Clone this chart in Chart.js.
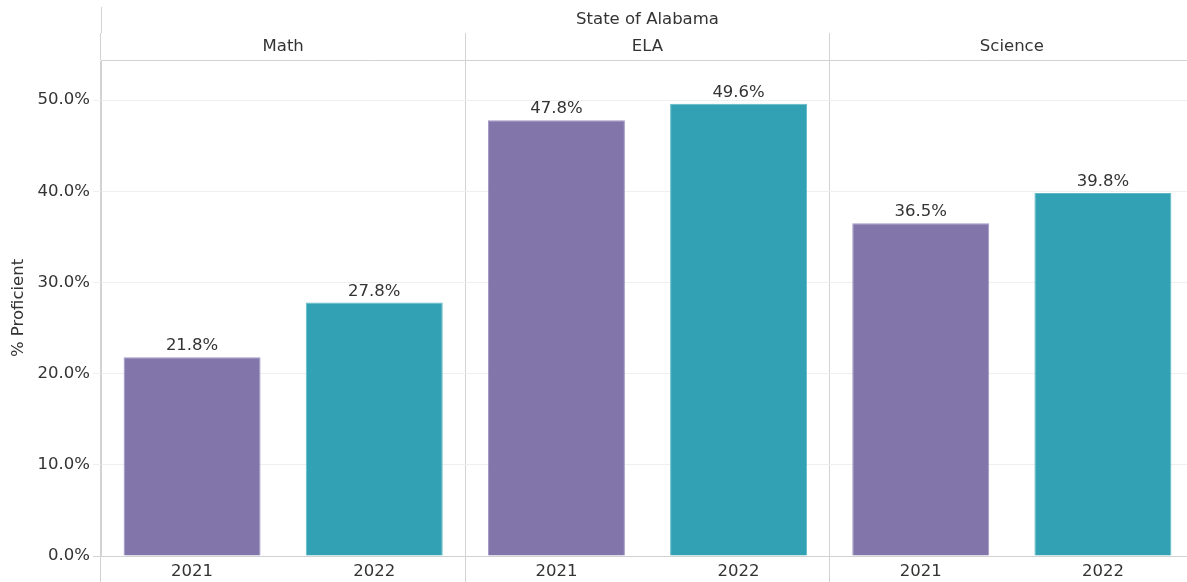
<!DOCTYPE html>
<html>
<head>
<meta charset="utf-8">
<script src="https://cdn.jsdelivr.net/npm/chart.js@4/dist/chart.umd.min.js"></script>
<style>
  html, body { margin: 0; padding: 0; background: #ffffff; overflow: hidden; }
  #wrap { width: 1194px; height: 582px; }
</style>
</head>
<body>
<div id="wrap"><canvas id="chart" width="1194" height="582"></canvas></div>
<script>
// Proficiency rates by subject, State of Alabama
const groupTitle = 'State of Alabama';
const subjects = ['Math', 'ELA', 'Science'];
const years = ['2021', '2022'];
const pct2021 = [21.8, 47.8, 36.5];
const pct2022 = [27.8, 49.6, 39.8];
const yearColors = ['#8175aa', '#32a1b4'];
const yearBorders = ['#a097c4', '#62bac7'];

const FONT = { family: 'DejaVu Sans', size: 16.5 };
const TEXT = '#333333';
const LINE = '#d2d2d2';

// one bar per (subject, year)
const labels = [];
const values = [];
const fills = [];
const borders = [];
subjects.forEach((s, i) => {
  [pct2021[i], pct2022[i]].forEach((v, j) => {
    labels.push(years[j]);
    values.push(v);
    fills.push(yearColors[j]);
    borders.push(yearBorders[j]);
  });
});

const valueLabels = {
  id: 'valueLabels',
  afterDatasetsDraw(chart) {
    const ctx = chart.ctx;
    const meta = chart.getDatasetMeta(0);
    ctx.save();
    ctx.font = `${FONT.size}px ${FONT.family}`;
    ctx.fillStyle = TEXT;
    ctx.textAlign = 'center';
    ctx.textBaseline = 'alphabetic';
    meta.data.forEach((bar, i) => {
      ctx.fillText(values[i].toFixed(1) + '%', bar.x, bar.y - 7);
    });
    ctx.restore();
  }
};

new Chart(document.getElementById('chart'), {
  type: 'bar',
  data: {
    labels: labels,
    datasets: [{
      data: values,
      backgroundColor: fills,
      borderColor: borders,
      borderWidth: 1,
      barPercentage: 0.752,
      categoryPercentage: 1.0
    }]
  },
  options: {
    responsive: false,
    animation: false,
    layout: { padding: { top: 7, left: 0, right: 0, bottom: 0 } },
    plugins: {
      legend: { display: false },
      tooltip: { enabled: false },
      title: { display: false }
    },
    scales: {
      x: {
        type: 'category',
        position: 'bottom',
        offset: true,
        grid: {
          offset: true,
          drawOnChartArea: false,
          drawTicks: true,
          tickLength: 30,
          tickColor: (c) => (c.index % 2 === 0 ? LINE : 'rgba(0,0,0,0)')
        },
        border: { display: true, color: LINE, width: 1 },
        ticks: {
          color: TEXT, font: FONT, padding: -24.4,
          maxRotation: 0, autoSkip: false
        },
        afterFit: (s) => { s.height = 26; }
      },
      subject: {
        type: 'category',
        position: 'top',
        labels: subjects,
        offset: true,
        weight: 1,
        grid: {
          offset: true,
          drawOnChartArea: true,
          drawTicks: true,
          tickLength: 27,
          color: LINE,
          tickColor: LINE
        },
        border: { display: true, color: LINE, width: 1 },
        ticks: { color: TEXT, font: FONT, padding: -23.4, maxRotation: 0, autoSkip: false },
        afterFit: (s) => { s.height = 27; }
      },
      group: {
        type: 'category',
        position: 'top',
        labels: [groupTitle],
        offset: true,
        weight: 10,
        grid: {
          offset: true,
          drawOnChartArea: false,
          drawTicks: true,
          tickLength: 26,
          tickColor: (c) => (c.index === 0 ? LINE : 'rgba(0,0,0,0)')
        },
        border: { display: false },
        ticks: { color: TEXT, font: FONT, padding: -22.9, maxRotation: 0, autoSkip: false },
        afterFit: (s) => { s.height = 26; }
      },
      y: {
        type: 'linear',
        position: 'left',
        min: 0,
        max: 54.4,
        grid: {
          color: (c) => (c.tick && c.tick.value === 0 ? LINE : '#efefef'),
          tickColor: (c) => (c.tick && c.tick.value === 0 ? LINE : '#efefef'),
          tickLength: 8,
          drawTicks: true
        },
        border: { display: true, color: LINE, width: 1 },
        ticks: {
          stepSize: 10,
          includeBounds: false,
          color: TEXT,
          font: FONT,
          padding: 3,
          callback: (v) => Number(v).toFixed(1) + '%'
        },
        title: {
          display: true,
          text: '% Proficient',
          color: TEXT,
          font: FONT,
          padding: { top: 9, bottom: 0 }
        },
        afterFit: (s) => { s.width = 101; }
      }
    }
  },
  plugins: [valueLabels]
});
</script>
</body>
</html>
